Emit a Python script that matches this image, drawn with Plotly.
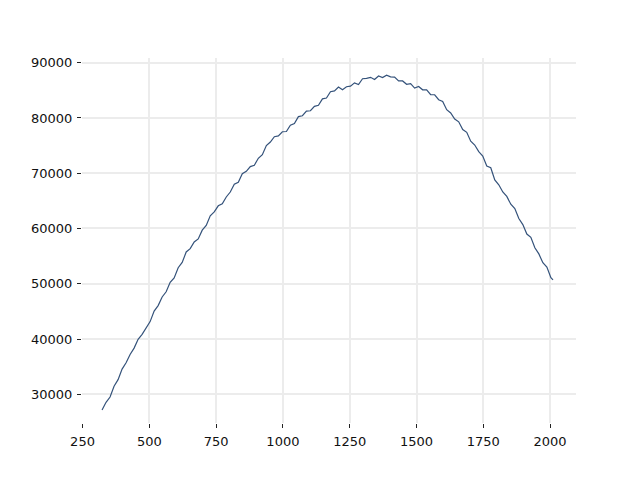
import plotly.graph_objects as go

x_vals = [323, 338, 353, 368, 383, 398, 413, 428, 443, 458, 473, 488, 503, 518, 533, 548, 563, 578, 593, 608,
          623, 638, 653, 668, 683, 698, 713, 728, 743, 758, 773, 788, 803, 818, 833, 848, 863, 878, 893, 908,
          923, 938, 953, 968, 983, 998, 1013, 1028, 1043, 1058, 1073, 1088, 1103, 1118, 1133, 1148, 1163, 1178,
          1193, 1208, 1223, 1238, 1253, 1268, 1283, 1298, 1313, 1328, 1343, 1358, 1373, 1388, 1403, 1418, 1433,
          1448, 1463, 1478, 1493, 1508, 1523, 1538, 1553, 1568, 1583, 1598, 1613, 1628, 1643, 1658, 1673, 1688,
          1703, 1718, 1733, 1748, 1763, 1778, 1793, 1808, 1823, 1838, 1853, 1868, 1883, 1898, 1913, 1928, 1943,
          1958, 1973, 1988, 2003, 2011]

y_vals = [27160, 28550, 29500, 31450, 32650, 34550, 35700, 37200, 38350, 39950, 40850, 42100, 43150, 45050,
          46050, 47600, 48550, 50250, 51050, 52900, 53850, 55750, 56350, 57550, 58100, 59700, 60550, 62300,
          63000, 64100, 64450, 65700, 66600, 68000, 68350, 69900, 70350, 71200, 71450, 72700, 73350, 75000,
          75650, 76600, 76750, 77500, 77550, 78700, 79000, 80250, 80400, 81250, 81300, 82100, 82300, 83450,
          83600, 84750, 84900, 85600, 85100, 85650, 85750, 86350, 86050, 87100, 87150, 87350, 86950, 87600,
          87300, 87750, 87450, 87400, 86700, 86700, 86100, 86200, 85400, 85700, 85100, 85100, 84200, 84200,
          83300, 83000, 81500, 80900, 79800, 79300, 77900, 77400, 75800, 75100, 73900, 73100, 71300, 71000,
          68800, 67900, 66600, 65800, 64400, 63600, 61800, 60700, 59000, 58400, 56500, 55400, 53800, 53000,
          51100, 50700]

x_ticks = [250, 500, 750, 1000, 1250, 1500, 1750, 2000]
y_ticks = [30000, 40000, 50000, 60000, 70000, 80000, 90000]

fig = go.Figure()
fig.add_trace(go.Scatter(x=x_vals, y=y_vals, mode="lines",
                         line=dict(color="#34527a", width=1.2), showlegend=False))

axis_common = dict(showgrid=True, gridcolor="#ececec", gridwidth=1.5, zeroline=False,
                   showline=False, ticks="outside", ticklen=4, tickcolor="#222222",
                   ticklabelstandoff=2,
                   tickfont=dict(family="DejaVu Sans", size=13, color="#111111"))

fig.update_layout(
    width=640, height=480,
    margin=dict(l=74, r=72, t=50, b=65),
    paper_bgcolor="white", plot_bgcolor="white",
    xaxis=dict(range=[248, 2097], tickvals=x_ticks, ticktext=[str(v) for v in x_ticks], **axis_common),
    yaxis=dict(range=[24800, 90850], tickvals=y_ticks, ticktext=[str(v) for v in y_ticks], **axis_common),
)

fig.write_html("out.html")
